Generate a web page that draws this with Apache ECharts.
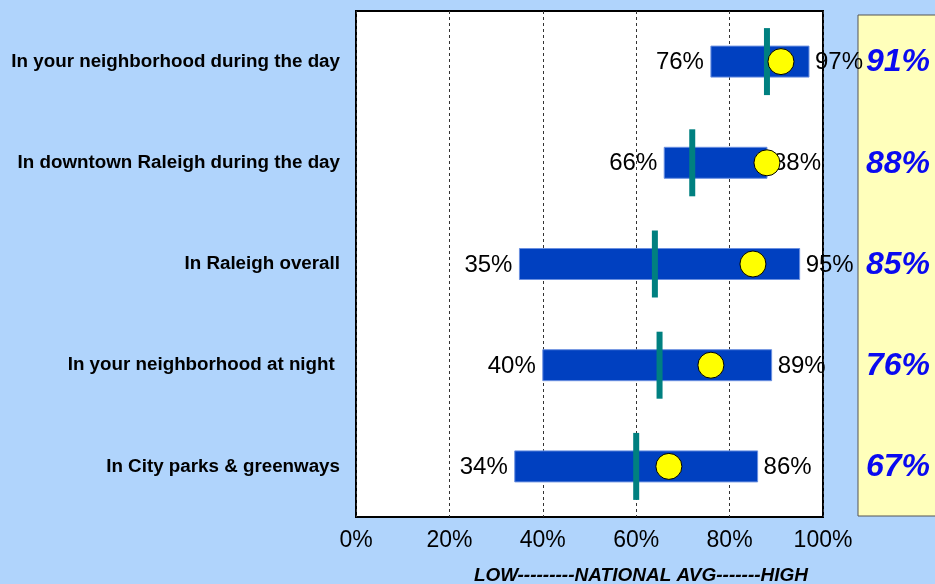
<!DOCTYPE html>
<html>
<head>
<meta charset="utf-8">
<style>
  html, body { margin: 0; padding: 0; background: #b0d4fc; }
  #chart { width: 935px; height: 584px; }
</style>
<script src="https://cdn.jsdelivr.net/npm/echarts@6/dist/echarts.min.js"></script>
</head>
<body>
<div id="chart"></div>
<script>
// Perceived safety: range across comparison cities (low/high),
// national average and Raleigh's own result.
const categories = [
  'In your neighborhood during the day',
  'In downtown Raleigh during the day',
  'In Raleigh overall',
  'In your neighborhood at night ',
  'In City parks & greenways'
];
const lowValues = [76, 66, 35, 40, 34];
const highValues = [97, 88, 95, 89, 86];
const nationalAvg = [88, 72, 64, 65, 60];
const raleighValues = [91, 88, 85, 76, 67];
const xTicks = [0, 20, 40, 60, 80, 100];
const axisTitle = 'LOW---------NATIONAL AVG-------HIGH';

const FONT = '"Liberation Sans", Arial, sans-serif';
const GRID = { left: 356, right: 112, top: 11, bottom: 67 };
const BOX = { x: 858, y: 15, w: 80, h: 501 };

const chart = echarts.init(document.getElementById('chart'), null, { renderer: 'canvas' });

const rangeData = categories.map((c, i) => [i, lowValues[i], highValues[i]]);
const avgData = categories.map((c, i) => [nationalAvg[i], i]);
const dotData = categories.map((c, i) => [raleighValues[i], i]);
const boxData = categories.map((c, i) => [raleighValues[i], i]);

const option = {
  backgroundColor: '#b0d4fc',
  animation: false,
  grid: {
    left: GRID.left, right: GRID.right, top: GRID.top, bottom: GRID.bottom,
    show: true, backgroundColor: '#ffffff', borderColor: '#000000', borderWidth: 2
  },
  xAxis: {
    type: 'value', min: xTicks[0], max: xTicks[xTicks.length - 1], interval: 20,
    axisLine: { show: false }, axisTick: { show: false },
    axisLabel: {
      formatter: '{value}%', fontFamily: FONT, fontSize: 23, color: '#000', margin: 12
    },
    splitLine: { show: true, lineStyle: { type: [3, 3], color: '#333', width: 1 } }
  },
  yAxis: {
    type: 'category', data: categories, inverse: true,
    axisLine: { show: false }, axisTick: { show: false },
    axisLabel: {
      fontFamily: FONT, fontSize: 18.8, fontWeight: 'bold', color: '#000', margin: 16
    },
    splitLine: { show: false }
  },
  graphic: [
    {
      type: 'rect', z: 0, silent: true,
      shape: { x: BOX.x, y: BOX.y, width: BOX.w, height: BOX.h },
      style: { fill: '#ffffbb', stroke: '#555555', lineWidth: 1 }
    },
    {
      type: 'text', z: 10, silent: true, x: 641, y: 576,
      style: {
        text: axisTitle, fontFamily: FONT, fontSize: 19, fontWeight: 'bold', fontStyle: 'italic',
        fill: '#000', align: 'center', verticalAlign: 'middle',
        textAlign: 'center', textVerticalAlign: 'middle'
      }
    }
  ],
  series: [
    {
      // low-to-high range bar with its end labels
      type: 'custom', z: 2, clip: false,
      encode: { x: [1, 2], y: 0 },
      data: rangeData,
      renderItem: function (params, api) {
        const cat = api.value(0), lo = api.value(1), hi = api.value(2);
        const p0 = api.coord([lo, cat]);
        const p1 = api.coord([hi, cat]);
        const h = 31;
        const txt = (x, t, align) => ({
          type: 'text', x: x, y: p0[1] + 1,
          style: {
            text: t, fontFamily: FONT, fontSize: 24, fill: '#000',
            align: align, verticalAlign: 'middle',
            textAlign: align, textVerticalAlign: 'middle'
          }
        });
        return {
          type: 'group',
          children: [
            {
              type: 'rect',
              shape: { x: p0[0], y: p0[1] - h / 2, width: p1[0] - p0[0], height: h },
              style: { fill: '#0040c0', stroke: '#6a8fe0', lineWidth: 1 }
            },
            txt(p0[0] - 7, lo + '%', 'right'),
            txt(p1[0] + 6, hi + '%', 'left')
          ]
        };
      }
    },
    {
      // national average marker
      type: 'scatter', z: 3,
      symbol: 'rect', symbolSize: [6, 67],
      itemStyle: { color: '#008080', opacity: 1 },
      data: avgData
    },
    {
      // Raleigh result
      type: 'scatter', z: 4,
      symbol: 'circle', symbolSize: 26,
      itemStyle: { color: '#ffff00', borderColor: '#000', borderWidth: 1, opacity: 1 },
      data: dotData
    },
    {
      // Raleigh result restated in the side panel
      type: 'custom', z: 5, clip: false,
      encode: { x: 0, y: 1 },
      data: boxData,
      renderItem: function (params, api) {
        const v = api.value(0), cat = api.value(1);
        const p = api.coord([v, cat]);
        return {
          type: 'text', x: BOX.x + 40, y: p[1] + 1,
          style: {
            text: v + '%', fontFamily: FONT, fontSize: 32, fontWeight: 'bold', fontStyle: 'italic',
            fill: '#0a0af0', align: 'center', verticalAlign: 'middle',
            textAlign: 'center', textVerticalAlign: 'middle'
          }
        };
      }
    }
  ]
};

chart.setOption(option);
</script>
</body>
</html>
